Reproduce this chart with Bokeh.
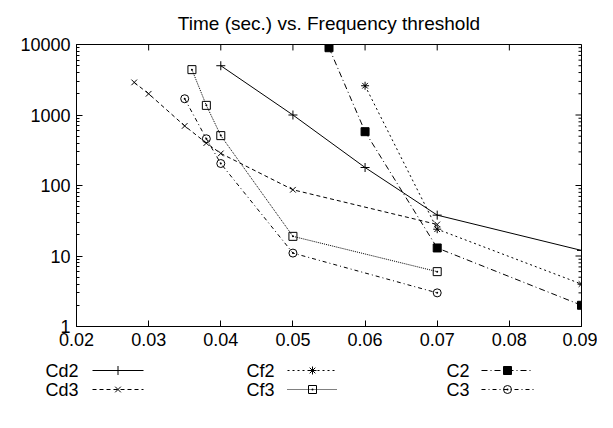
from bokeh.plotting import figure
from bokeh.models import FixedTicker, NumeralTickFormatter, Range1d
from bokeh.layouts import column
from bokeh.embed import file_html
from bokeh.resources import INLINE
from bokeh.core.properties import value

TITLE = "Time (sec.) vs. Frequency threshold"
x_ticks = [0.02, 0.03, 0.04, 0.05, 0.06, 0.07, 0.08, 0.09]
y_ticks = [1, 10, 100, 1000, 10000]
y_minor_mult = [2, 3, 4, 5, 6, 7, 8, 9]

series_names = ["Cd2", "Cd3", "Cf2", "Cf3", "C2", "C3"]
cd2_x = [0.04, 0.05, 0.06, 0.07, 0.09]
cd2_y = [5000, 1000, 180, 38, 12]
cd3_x = [0.028, 0.03, 0.035, 0.038, 0.04, 0.05, 0.07]
cd3_y = [2900, 2000, 700, 400, 285, 87, 28]
cf2_x = [0.06, 0.07, 0.09]
cf2_y = [2600, 24, 4]
cf3_x = [0.036, 0.038, 0.04, 0.05, 0.07]
cf3_y = [4400, 1370, 510, 19, 6]
c2_x = [0.055, 0.06, 0.07, 0.09]
c2_y = [9000, 580, 13, 2]
c3_x = [0.035, 0.038, 0.04, 0.05, 0.07]
c3_y = [1700, 460, 205, 11, 3]

FONT = "Liberation Sans"
FS = "18px"
TFS = "19px"

styles = {
    "Cd2": dict(dash="solid", marker="cross", fill=False, size=9),
    "Cd3": dict(dash="4 3", marker="x", fill=False, size=8),
    "Cf2": dict(dash="2 3", marker="asterisk", fill=False, size=8),
    "Cf3": dict(dash="1 1", marker="square_dot", fill=False, size=8),
    "C2": dict(dash="6 3 1 3", marker="square", fill=True, size=8),
    "C3": dict(dash="4 3 1 3", marker="circle_dot", fill=False, size=8),
}
data = {
    "Cd2": (cd2_x, cd2_y), "Cd3": (cd3_x, cd3_y), "Cf2": (cf2_x, cf2_y),
    "Cf3": (cf3_x, cf3_y), "C2": (c2_x, c2_y), "C3": (c3_x, c3_y),
}

W = 597
LB, RB, TB, BB = 76, 16, 42, 32
FRAME_W = W - LB - RB
FRAME_H = 284
H_MAIN = TB + FRAME_H + BB
H_LEG = 62
X0, X1 = 0.02, 0.09
Y0, Y1 = 1, 10000

p = figure(width=W, height=H_MAIN, y_axis_type="log",
           x_range=Range1d(X0, X1), y_range=Range1d(Y0, Y1),
           output_backend="svg", toolbar_location=None,
           min_border_left=LB, min_border_right=RB,
           min_border_top=TB, min_border_bottom=BB)
p.title.text = TITLE
p.title.align = "center"
p.title.text_font = FONT
p.title.text_font_size = TFS
p.title.text_font_style = "normal"
p.title.text_color = "black"
p.title.standoff = 21
p.xgrid.visible = False
p.ygrid.visible = False
p.outline_line_color = "black"
p.outline_line_width = 1

minor = [m * d for d in y_ticks[:-1] for m in y_minor_mult]

def style_axis(ax):
    ax.axis_line_color = "black"
    ax.major_tick_line_color = "black"
    ax.minor_tick_line_color = "black"
    ax.major_tick_in = 6
    ax.major_tick_out = 0
    ax.minor_tick_in = 3
    ax.minor_tick_out = 0
    ax.major_label_text_font = FONT
    ax.major_label_text_font_size = FS
    ax.major_label_text_color = "black"
    ax.major_label_standoff = 6

for ax in p.xaxis:
    ax.ticker = FixedTicker(ticks=x_ticks)
    ax.formatter = NumeralTickFormatter(format="0.00")
    style_axis(ax)
for ax in p.yaxis:
    ax.ticker = FixedTicker(ticks=y_ticks, minor_ticks=minor)
    ax.formatter = NumeralTickFormatter(format="0")
    style_axis(ax)

# mirrored inward ticks on top and right edges (lengths in px converted to data units)
dx_major = (X1 - X0) * 6 / FRAME_W
dx_minor = (X1 - X0) * 3 / FRAME_W
fy_major = 10 ** (4 * 6 / FRAME_H)
p.segment(x0=x_ticks, y0=[Y1] * len(x_ticks), x1=x_ticks, y1=[Y1 / fy_major] * len(x_ticks),
          line_color="black", line_width=1)
p.segment(x0=[X1] * len(y_ticks), y0=y_ticks, x1=[X1 - dx_major] * len(y_ticks), y1=y_ticks,
          line_color="black", line_width=1)
p.segment(x0=[X1] * len(minor), y0=minor, x1=[X1 - dx_minor] * len(minor), y1=minor,
          line_color="black", line_width=1)

for name in series_names:
    xs, ys = data[name]
    st = styles[name]
    p.line(xs, ys, line_color="black", line_width=1, line_dash=st["dash"])
    p.scatter(xs, ys, marker=st["marker"], size=st["size"], line_color="black",
              line_width=1, fill_color="black" if st["fill"] else None)

# legend panel below: full-width frame, data x == page x
leg = figure(width=W, height=H_LEG, x_range=Range1d(0, W), y_range=Range1d(H_LEG, 0),
             output_backend="svg", toolbar_location=None,
             min_border_left=0, min_border_right=0, min_border_top=0, min_border_bottom=0)
if "frame_align" in leg.properties():
    leg.frame_align = False
leg.axis.visible = False
leg.xgrid.visible = False
leg.ygrid.visible = False
leg.outline_line_color = None

col_label_x = [45, 246, 446]
col_line_x = [(92, 143), (287, 337), (481, 533)]
row_y = [12, 31]
for i, name in enumerate(series_names):
    c, r = i // 2, i % 2
    st = styles[name]
    y = row_y[r]
    leg.text(x=[col_label_x[c]], y=[y], text=[name], text_font=value(FONT),
             text_font_size=FS, text_align="left", text_baseline="middle", text_color="black")
    x0, x1 = col_line_x[c]
    leg.line([x0, x1], [y, y], line_color="black", line_width=1, line_dash=st["dash"])
    leg.scatter([(x0 + x1) / 2], [y], marker=st["marker"], size=st["size"], line_color="black",
                line_width=1, fill_color="black" if st["fill"] else None)

layout = column(p, leg, spacing=0)
open("out.html", "w").write(file_html(layout, INLINE))
